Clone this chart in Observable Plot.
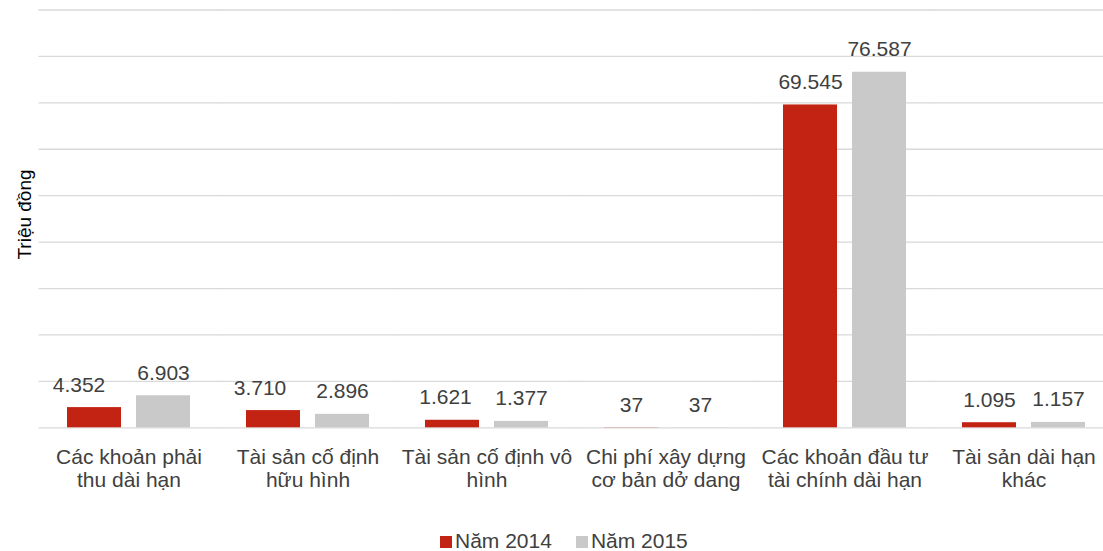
<!DOCTYPE html>
<html>
<head>
<meta charset="utf-8">
<script src="https://cdn.jsdelivr.net/npm/d3@7"></script>
<script src="https://cdn.jsdelivr.net/npm/@observablehq/plot@0.6"></script>
<style>
  html, body { margin: 0; padding: 0; background: #fff; overflow: hidden; width: 1103px; height: 551px; }
  body { font-family: "Liberation Sans", Arial, sans-serif; color: #404040; }
  #chart svg { display: block; overflow: hidden; }
  #legend { margin-top: 2px; padding-left: 440px; font-size: 21px; line-height: 18px; height: 18px; white-space: nowrap; }
  #legend .item { display: inline-block; margin-right: 24px; }
  #legend .sw { display: inline-block; width: 12px; height: 12px; margin-right: 3px; vertical-align: baseline; }
</style>
</head>
<body>
<div id="chart"></div>
<div id="legend"></div>
<script>
// ---- data ----
const categories = [
  "Các khoản phải\nthu dài hạn",
  "Tài sản cố định\nhữu hình",
  "Tài sản cố định vô\nhình",
  "Chi phí xây dựng\ncơ bản dở dang",
  "Các khoản đầu tư\ntài chính dài hạn",
  "Tài sản dài hạn\nkhác"
];
const seriesNames = ["Năm 2014", "Năm 2015"];
const values2014 = [4352, 3710, 1621, 37, 69545, 1095];
const values2015 = [6903, 2896, 1377, 37, 76587, 1157];
const gridValues = [0, 10000, 20000, 30000, 40000, 50000, 60000, 70000, 80000, 90000];
const yTitle = "Triệu đồng";

// ---- styling ----
const colors = ["#C32313", "#C9C9C9"];
const textColor = "#404040";
const fontFamily = '"Liberation Sans", Arial, sans-serif';
// manual horizontal nudges of the 2014 value labels (as in the reference)
const labelNudge2014 = [-15.5, -13.5, -7, 0, 0, 0];

const rows = categories.flatMap((c, i) => [
  {cat: c, series: seriesNames[0], value: values2014[i], idx: i},
  {cat: c, series: seriesNames[1], value: values2015[i], idx: i}
]);

const fmt = d3.formatLocale({decimal: ",", thousands: ".", grouping: [3], currency: ["", ""]}).format(",");

const labelMarks = [];
categories.forEach((c, i) => {
  labelMarks.push(Plot.text(rows.filter(d => d.idx === i && d.series === seriesNames[0]), {
    fx: "cat", x: "series", y: "value", text: d => fmt(d.value),
    dy: -16, dx: labelNudge2014[i], lineAnchor: "bottom", fontSize: 21, fill: textColor
  }));
  labelMarks.push(Plot.text(rows.filter(d => d.idx === i && d.series === seriesNames[1]), {
    fx: "cat", x: "series", y: "value", text: d => fmt(d.value),
    dy: -16, lineAnchor: "bottom", fontSize: 21, fill: textColor
  }));
});

const chart = Plot.plot({
  width: 1103,
  height: 530,
  marginLeft: 38,
  marginRight: 0,
  marginTop: 9,
  marginBottom: 103,
  style: {fontFamily, fontSize: "21px", color: textColor, background: "#fff", overflow: "hidden"},
  fx: {domain: categories, range: [37, 1114], paddingInner: 0.304, paddingOuter: 0.152, axis: null, label: null},
  x: {domain: seriesNames, paddingInner: 0.214, paddingOuter: 0, axis: null},
  y: {domain: [0, 90000], range: [427.3, 9.5], axis: null},
  color: {domain: seriesNames, range: colors},
  marks: [
    Plot.ruleY(gridValues, {stroke: "#D9D9D9", strokeWidth: 1.3, insetLeft: -27.5, insetRight: -27.5}),
    Plot.barY(rows, {fx: "cat", x: "series", y: "value", fill: "series"}),
    ...labelMarks,
    Plot.axisFx({anchor: "bottom", tickSize: 0, tickPadding: 19.5, fontSize: 21, lineHeight: 1.11, label: null, fill: textColor}),
    Plot.text([yTitle], {frameAnchor: "left", rotate: -90, dx: -36, dy: -4, textAnchor: "middle", lineAnchor: "bottom", fontSize: 19, fill: "#000", facet: "super"})
  ]
});
document.getElementById("chart").appendChild(chart);

const legend = document.getElementById("legend");
seriesNames.forEach((s, i) => {
  const item = document.createElement("span");
  item.className = "item";
  const sw = document.createElement("span");
  sw.className = "sw";
  sw.style.background = colors[i];
  item.appendChild(sw);
  item.appendChild(document.createTextNode(s));
  legend.appendChild(item);
});
</script>
</body>
</html>
